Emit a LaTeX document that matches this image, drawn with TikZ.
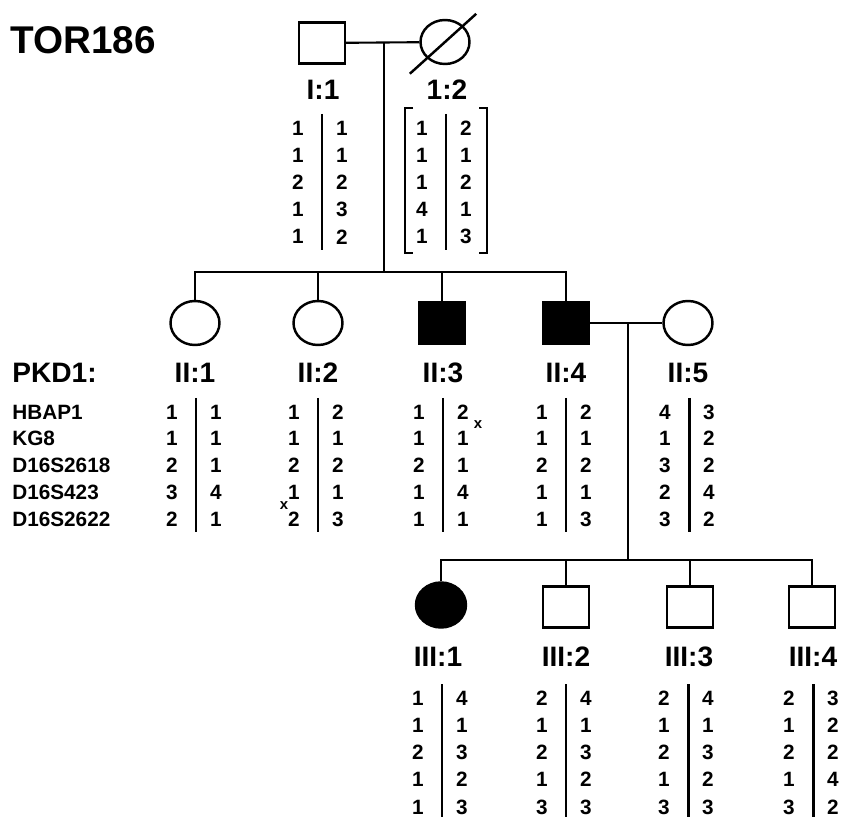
\documentclass[tikz,border=0pt]{standalone}
\usepackage{fontspec}
\setmainfont{Liberation Sans}
\usepackage{tikz}
\usetikzlibrary{positioning,shapes.geometric}

% haplotype column pair: name, bar x, first row y, row step, list a/b
\newcommand{\haplotype}[5]{%
  \draw[bar] (#2,{#3-14}) -- (#2,{#3+4*#4+13});
  \foreach \a/\b [count=\r] in {#5} {
    \node[allele] (#1l\r) at ({#2-24},{#3+(\r-1)*#4}) {\a};
    \node[allele] (#1r\r) at ({#2+20},{#3+(\r-1)*#4}) {\b};
  }}

\begin{document}
\begin{tikzpicture}[
    x=0.02cm, y=-0.02cm,
    every node/.style={font=\bfseries},
    male/.style={rectangle, draw, line width=1.4pt, minimum width=0.92cm, minimum height=0.82cm, inner sep=0pt},
    female/.style={ellipse, draw, line width=1.4pt, minimum width=0.98cm, minimum height=0.88cm, inner sep=0pt},
    affected/.style={fill=black},
    idlabel/.style={font=\fontsize{16}{18}\selectfont\bfseries, inner sep=0pt},
    allele/.style={font=\fontsize{11.8}{13}\selectfont\bfseries, inner sep=0pt},
    marker/.style={font=\fontsize{11.8}{13}\selectfont\bfseries, inner sep=0pt, anchor=west},
    xover/.style={font=\fontsize{8.5}{9}\selectfont\bfseries, inner sep=0pt},
    line/.style={line width=1.2pt},
    bar/.style={line width=1.7pt}
]
\useasboundingbox (0,0) rectangle (842,817);

% Title
\node[font=\fontsize{22}{24}\selectfont\bfseries, anchor=west, inner sep=0pt] (title) at (10,40) {TOR186};

% Generation I
\node[male] (i1) at (322,43) {};
\node[female] (i2) at (445,42) {};
\draw[line width=1.4pt, shorten <=-13pt, shorten >=-10pt] (i2.south west) -- (i2.north east);
\node[idlabel] (li1) at (323,90) {I:1};
\node[idlabel] (li2) at (447,90) {1:2};

\haplotype{i1}{322}{128}{27.2}{1/1,1/1,2/2,1/3,1/2}
\haplotype{i2}{446}{128}{27.2}{1/2,1/1,1/2,4/1,1/3}
\draw[line] (413,108) -- (405,108) -- (405,253) -- (413,253);
\draw[line] (479,108) -- (487,108) -- (487,253) -- (479,253);

% Generation II
\node[female] (ii1) at (195,323) {};
\node[female] (ii2) at (318,323) {};
\node[male, affected] (ii3) at (442,323) {};
\node[male, affected] (ii4) at (566,323) {};
\node[female] (ii5) at (688,323) {};

\node[idlabel, anchor=west] (pkd) at (12,373) {PKD1:};
\node[idlabel] (lii1) at (195,373) {II:1};
\node[idlabel] (lii2) at (318,373) {II:2};
\node[idlabel] (lii3) at (443,373) {II:3};
\node[idlabel] (lii4) at (566,373) {II:4};
\node[idlabel] (lii5) at (688,373) {II:5};

\node[marker] (hbap) at (12,412) {HBAP1};
\node[marker] (kg) at (12,438.75) {KG8};
\node[marker] (dsa) at (12,465.5) {D16S2618};
\node[marker] (dsb) at (12,492.25) {D16S423};
\node[marker] (dsc) at (12,519) {D16S2622};

\haplotype{ii1}{196}{412}{26.75}{1/1,1/1,2/1,3/4,2/1}
\haplotype{ii2}{318}{412}{26.75}{1/2,1/1,2/2,1/1,2/3}
\haplotype{ii3}{443}{412}{26.75}{1/2,1/1,2/1,1/4,1/1}
\haplotype{ii4}{566}{412}{26.75}{1/2,1/1,2/2,1/1,1/3}
\haplotype{ii5}{689}{412}{26.75}{4/3,1/2,3/2,2/4,3/2}
\node[xover] (xa) at (284,506) {x};
\node[xover] (xb) at (478,425) {x};

% Generation III
\node[female, affected, minimum width=1cm, minimum height=0.9cm] (iii1) at (441,605) {};
\node[male] (iii2) at (566,607) {};
\node[male] (iii3) at (690,607) {};
\node[male] (iii4) at (812,607) {};

\node[idlabel] (liii1) at (438,657) {III:1};
\node[idlabel] (liii2) at (566,657) {III:2};
\node[idlabel] (liii3) at (689,657) {III:3};
\node[idlabel] (liii4) at (813,657) {III:4};

\haplotype{iii1}{442}{698}{27.25}{1/4,1/1,2/3,1/2,1/3}
\haplotype{iii2}{566}{698}{27.25}{2/4,1/1,2/3,1/2,3/3}
\haplotype{iii3}{688}{698}{27.25}{2/4,1/1,2/3,1/2,3/3}
\haplotype{iii4}{813}{698}{27.25}{2/3,1/2,2/2,1/4,3/2}

% Marriages and descent
\coordinate (m1) at (384,43);
\coordinate (s2) at (384,272);
\coordinate (m2) at (628,323);
\coordinate (s3) at (628,560);
\draw[line] (i1) -- (i2);
\draw[line] (m1) -- (s2);
\draw[line] (ii1.north) -- (ii1 |- s2) -- (ii4 |- s2) -- (ii4.north);
\draw[line] (ii2.north) -- (ii2 |- s2);
\draw[line] (ii3.north) -- (ii3 |- s2);

\draw[line] (ii4) -- (ii5);
\draw[line] (m2) -- (s3);
\draw[line] (iii1.north) -- (iii1 |- s3) -- (iii4 |- s3) -- (iii4.north);
\draw[line] (iii2.north) -- (iii2 |- s3);
\draw[line] (iii3.north) -- (iii3 |- s3);

\end{tikzpicture}
\end{document}
